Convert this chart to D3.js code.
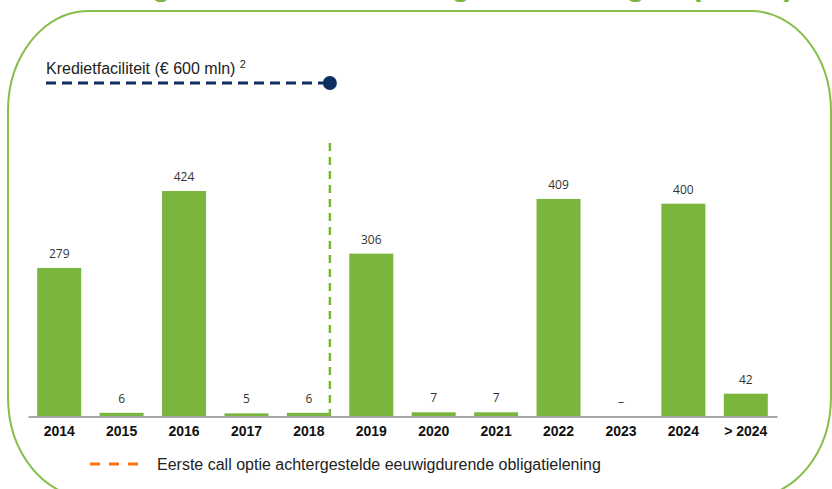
<!DOCTYPE html>
<html>
<head>
<meta charset="utf-8">
<script src="https://cdn.jsdelivr.net/npm/d3@7/dist/d3.min.js"></script>
<style>
  html, body { margin: 0; padding: 0; background: #fff; }
  svg { display: block; }
</style>
</head>
<body>
<svg id="chart" width="832" height="489"></svg>
<script>
// Maturity profile of long-term debt (€ mln)
const categories = ["2014", "2015", "2016", "2017", "2018", "2019", "2020", "2021", "2022", "2023", "2024", "> 2024"];
const maturities = [279, 6, 424, 5, 6, 306, 7, 7, 409, 0, 400, 42];
const valueLabels = ["279", "6", "424", "5", "6", "306", "7", "7", "409", "–", "400", "42"];
const callYear = "2018";
const titleText = "Vervaldagen van de rentedragende leningen (€ mln)";
const facilityText = "Kredietfaciliteit (€ 600 mln)";
const facilityNote = "2";
const legendText = "Eerste call optie achtergestelde eeuwigdurende obligatielening";

const W = 832, H = 489;
const green = "#7ab53d";
const frameGreen = "#86be4a";
const navy = "#0c2f5f";
const orange = "#ff7010";

const svg = d3.select("#chart");

// Title (runs off the top of the slide)
svg.append("text")
  .attr("x", 22).attr("y", -4.8)
  .attr("font-family", "'Liberation Sans', Arial, sans-serif")
  .attr("font-weight", "bold")
  .attr("font-size", 31.5)
  .attr("fill", green)
  .text(titleText);

// Rounded frame around the chart
const fx0 = 8, fy0 = 11, fx1 = 831, fy1 = 497, rx = 80, ry = 100;
const frame = d3.path();
frame.moveTo(fx0, fy1 - ry);
frame.lineTo(fx0, fy0 + ry);
frame.bezierCurveTo(fx0, fy0 + ry * 0.45, fx0 + rx * 0.45, fy0, fx0 + rx, fy0);
frame.lineTo(fx1 - rx, fy0);
frame.bezierCurveTo(fx1 - rx * 0.45, fy0, fx1, fy0 + ry * 0.45, fx1, fy0 + ry);
frame.lineTo(fx1, fy1 - ry);
frame.bezierCurveTo(fx1, fy1 - ry * 0.45, fx1 - rx * 0.45, fy1, fx1 - rx, fy1);
frame.lineTo(fx0 + rx, fy1);
frame.bezierCurveTo(fx0 + rx * 0.45, fy1, fx0, fy1 - ry * 0.45, fx0, fy1 - ry);
svg.append("path")
  .attr("d", frame.toString())
  .attr("fill", "none")
  .attr("stroke", frameGreen)
  .attr("stroke-width", 2);

// Scales
const baseY = 416;
const x = d3.scaleBand().domain(categories).range([28, 777]).paddingInner(0.295).paddingOuter(0.1475);
const y = d3.scaleLinear().domain([0, 450]).range([baseY, baseY - 450 * 0.5307]);

// Bars
svg.append("g").selectAll("rect")
  .data(categories)
  .join("rect")
  .attr("x", d => x(d))
  .attr("width", x.bandwidth())
  .attr("y", (d, i) => y(maturities[i]))
  .attr("height", (d, i) => baseY - y(maturities[i]))
  .attr("fill", green);

// Value labels
svg.append("g").selectAll("text")
  .data(categories)
  .join("text")
  .attr("x", d => x(d) + x.bandwidth() / 2)
  .attr("y", (d, i) => y(maturities[i]) - 10)
  .attr("text-anchor", "middle")
  .attr("font-family", "'Open Sans', sans-serif")
  .attr("font-size", 12)
  .attr("fill", "#333")
  .text((d, i) => valueLabels[i]);

// Category axis
const axis = svg.append("g")
  .attr("transform", `translate(0,${baseY + 0.5})`)
  .call(d3.axisBottom(x).tickSize(0).tickPadding(10));
axis.select(".domain").attr("stroke", "#8a8a8a").attr("stroke-width", 1.6);
axis.selectAll("text")
  .attr("font-family", "'Liberation Sans', Arial, sans-serif")
  .attr("font-weight", "bold")
  .attr("font-size", 14)
  .attr("fill", "#111");

// First call marker: dashed vertical line after the call year
const callX = x(callYear) + x.bandwidth() - 1;
svg.append("line")
  .attr("x1", callX).attr("x2", callX)
  .attr("y1", 143).attr("y2", baseY)
  .attr("stroke", green)
  .attr("stroke-width", 2.5)
  .attr("stroke-dasharray", "8,6");

// Credit facility line
const facY = 83;
svg.append("line")
  .attr("x1", 46).attr("x2", callX)
  .attr("y1", facY).attr("y2", facY)
  .attr("stroke", navy)
  .attr("stroke-width", 3)
  .attr("stroke-dasharray", "10,6");
svg.append("circle")
  .attr("cx", callX).attr("cy", facY).attr("r", 7)
  .attr("fill", navy);
const facLabel = svg.append("text")
  .attr("x", 46).attr("y", 74)
  .attr("font-family", "'Liberation Sans', Arial, sans-serif")
  .attr("font-size", 16)
  .attr("fill", "#222")
  .text(facilityText + " ");
facLabel.append("tspan")
  .attr("dy", -6).attr("font-size", 11)
  .text(facilityNote);

// Legend
svg.append("line")
  .attr("x1", 90).attr("x2", 140)
  .attr("y1", 464).attr("y2", 464)
  .attr("stroke", orange)
  .attr("stroke-width", 3)
  .attr("stroke-dasharray", "10,9");
svg.append("text")
  .attr("x", 157).attr("y", 470)
  .attr("font-family", "'Liberation Sans', Arial, sans-serif")
  .attr("font-size", 16)
  .attr("fill", "#222")
  .text(legendText);
</script>
</body>
</html>
